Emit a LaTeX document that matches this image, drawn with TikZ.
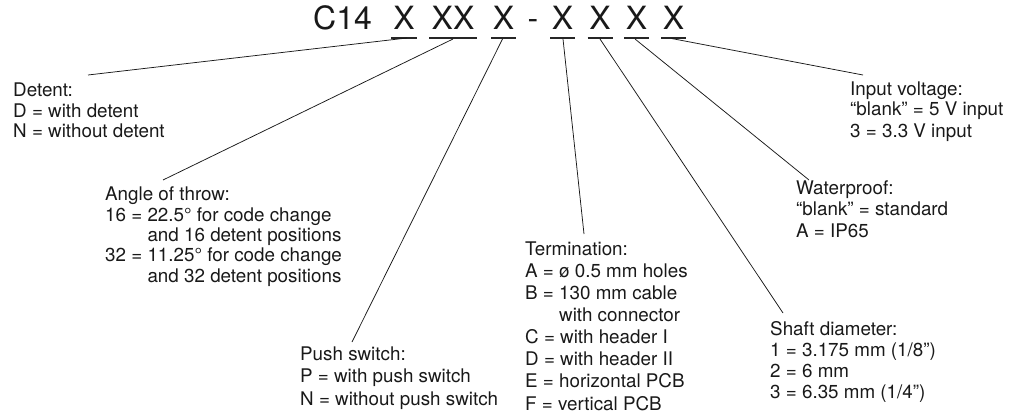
\documentclass[tikz,border=0pt]{standalone}
\usepackage{fontspec}
\setmainfont{TeX Gyre Heros}
\usetikzlibrary{calc}
\tikzset{
  lbl/.style={anchor=base west, align=left, inner sep=0pt, text=black!90,
    font=\fontsize{18.8}{#1}\selectfont},
  big/.style={anchor=base, inner sep=0pt, text=black!90, font=\fontsize{32}{36}\selectfont},
  ul/.style={line width=1.3pt, black!85},
  conn/.style={line width=0.75pt, black!90},
}
\begin{document}
\begin{tikzpicture}[x=1pt,y=-1pt]
\useasboundingbox (0,0) rectangle (1011,417);
% title
\node[big, anchor=base west] (c14) at (313,30) {C14};
\node[big] (x1) at (404,30) {X};
\node[big] (x2) at (453,30) {XX};
\node[big] (x3) at (503.5,30) {X};
\node[big] (dash) at (533,30) {-};
\node[big] (x4) at (562.5,30) {X};
\node[big] (x5) at (600,30) {X};
\node[big] (x6) at (636.5,30) {X};
\node[big] (x7) at (673.5,30) {X};
\foreach \n/\w in {x1/13,x2/24,x3/12.5,x4/12.5,x5/12.5,x6/12.5,x7/12.5}
  \draw[ul] ($(\n.base)+(-\w,8)$) -- ($(\n.base)+(\w,8)$);
% labels (anchor = baseline of the last line)
\node[lbl=20.5] (detent) at (13,138) {Detent:\\D = with detent\\N = without detent};
\node[lbl=20.3] (angle) at (105,282) {Angle of throw:\\16 = 22.5° for code change\\\phantom{16 = }and 16 detent positions\\32 = 11.25° for code change\\\phantom{32 = }and 32 detent positions};
\node[lbl=22.5] (push) at (300,405) {Push switch:\\P = with push switch\\N = without push switch};
\node[lbl=22.1] (term) at (525,410) {Termination:\\A = ø 0.5 mm holes\\B = 130 mm cable\\\phantom{B = }with connector\\C = with header I\\D = with header II\\E = horizontal PCB\\F = vertical PCB};
\node[lbl=21] (shaft) at (770,398) {Shaft diameter:\\1 = 3.175 mm (1/8”)\\2 = 6 mm\\3 = 6.35 mm (1/4”)};
\node[lbl=21.5] (water) at (796,237) {Waterproof:\\“blank” = standard\\A = IP65};
\node[lbl=21] (input) at (850,137) {Input voltage:\\“blank” = 5 V input\\3 = 3.3 V input};
% connector free ends
\coordinate (e1) at (88,75);
\coordinate (e2) at (163,180);
\coordinate (e3) at (352,342);
\coordinate (e4) at (584,234);
\coordinate (e5) at (783,313);
\coordinate (e6) at (809,180);
\coordinate (e7) at (863,75);
\draw[conn] (e1) -- ($(x1.base)+(3,8)$);
\draw[conn] (e2) -- ($(x2.base)+(0,9)$);
\draw[conn] (e3) -- ($(x3.base)+(-1,9)$);
\draw[conn] (e4) -- ($(x4.base)+(0.5,9)$);
\draw[conn] (e5) -- ($(x5.base)+(0,9)$);
\draw[conn] (e6) -- ($(x6.base)+(-1.5,9)$);
\draw[conn] (e7) -- ($(x7.base)+(-2,8.5)$);
\end{tikzpicture}
\end{document}
